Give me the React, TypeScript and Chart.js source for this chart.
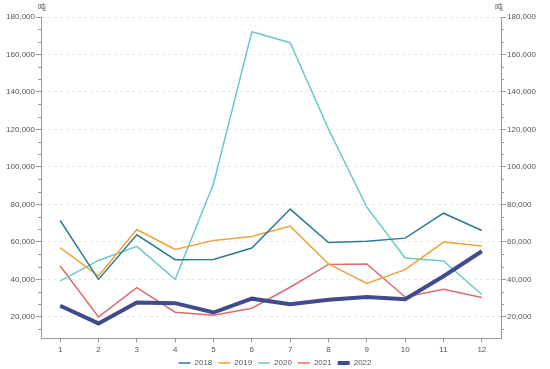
import React, { useEffect, useRef } from 'react';
import { Chart, registerables } from 'chart.js';

Chart.register(...registerables);

const months = ['1', '2', '3', '4', '5', '6', '7', '8', '9', '10', '11', '12'];
const years = ['2018', '2019', '2020', '2021', '2022'];
const s2018 = [71400, 40000, 63800, 50500, 50600, 56700, 77500, 59700, 60400, 62000, 75300, 66100];
const s2019 = [56900, 41800, 66600, 56000, 60800, 62900, 68400, 48200, 37800, 45200, 59900, 57800];
const s2020 = [39200, 50100, 57600, 40000, 91000, 172100, 166300, 120200, 78500, 51400, 49800, 31900];
const s2021 = [47100, 20000, 35600, 22500, 20900, 24600, 35800, 48000, 48200, 30600, 34700, 30300];
const s2022 = [25900, 16500, 27700, 27300, 22300, 29700, 26700, 29100, 30600, 29400, 41700, 55000];
const unitLabel = '吨';
const yMin = 8500;
const yMax = 180000;
const yStep = 20000;

const colors = ['#2b7a98', '#f0a236', '#6cc9c6', '#df6b6f', '#3f4b8c'];
const widths = [1.5, 1.5, 1.5, 1.5, 4];
const axisColor = '#999';
const textColor = '#555';
const FONT = "'Liberation Sans', Arial, sans-serif";

const fmt = (v: number) => v.toLocaleString('en-US');

const decor = {
  id: 'decor',
  afterDraw(chart: any) {
    const ctx = chart.ctx;
    const yl = chart.scales.y;
    const yr = chart.scales.y1;
    ctx.save();
    ctx.strokeStyle = axisColor;
    ctx.lineWidth = 1;
    const minor = yStep / 3;
    for (let k = -3; k <= 27; k++) {
      if (k % 3 === 0) continue;
      const v = yStep + k * minor;
      if (v < yMin || v > yMax) continue;
      const py = Math.round(yl.getPixelForValue(v)) + 0.5;
      ctx.beginPath();
      ctx.moveTo(yl.right - 3, py);
      ctx.lineTo(yl.right, py);
      ctx.moveTo(yr.left, py);
      ctx.lineTo(yr.left + 3, py);
      ctx.stroke();
    }
    ctx.fillStyle = textColor;
    ctx.font = "8px 'Noto Sans CJK SC', sans-serif";
    ctx.textAlign = 'center';
    ctx.textBaseline = 'middle';
    ctx.fillText(unitLabel, yl.right + 1, 7);
    ctx.fillText(unitLabel, yr.left - 2, 7);
    ctx.restore();
  },
};

const yTicksFilter = (scale: any) => {
  const t: any[] = [];
  for (let v = yStep; v <= yMax; v += yStep) t.push({ value: v });
  scale.ticks = t;
};

export default function App() {
  const ref = useRef<HTMLCanvasElement>(null);
  useEffect(() => {
    document.body.style.margin = '0';
    const series = [s2018, s2019, s2020, s2021, s2022];
    const chart = new Chart(ref.current as HTMLCanvasElement, {
      type: 'line',
      data: {
        labels: months,
        datasets: years.map((y, i) => ({
          label: y,
          data: series[i],
          borderColor: colors[i],
          backgroundColor: colors[i],
          borderWidth: widths[i],
          pointRadius: 0,
          pointHoverRadius: 0,
          tension: 0,
          pointStyle: 'line',
          order: i === 4 ? 0 : 1,
        })),
      },
      options: {
        animation: false,
        responsive: true,
        maintainAspectRatio: false,
        layout: { padding: { top: 17, left: 0, right: 0, bottom: -8 } },
        plugins: {
          legend: {
            position: 'bottom',
            labels: {
              usePointStyle: true,
              pointStyleWidth: 12,
              boxHeight: 8,
              padding: 6,
              color: textColor,
              font: { size: 8, family: FONT },
              sort: (a: any, b: any) => a.datasetIndex - b.datasetIndex,
            },
          },
          tooltip: { enabled: false },
        },
        scales: {
          x: {
            offset: true,
            afterFit: (s: any) => { s.height = s.height - 5; },
            grid: { drawOnChartArea: false, offset: false, tickLength: 4, color: axisColor },
            border: { color: axisColor },
            ticks: { color: textColor, font: { size: 8, family: FONT }, padding: 3 },
          },
          y: {
            position: 'left',
            min: yMin,
            max: yMax,
            afterBuildTicks: yTicksFilter,
            afterFit: (s: any) => { s.width = 41; },
            grid: { color: '#e8e8e8', tickColor: axisColor, tickLength: 5 },
            border: { color: axisColor, dash: [3, 3] },
            ticks: { color: textColor, font: { size: 8, family: FONT }, padding: 1, callback: (v: any) => fmt(Number(v)) },
          },
          y1: {
            position: 'right',
            min: yMin,
            max: yMax,
            afterBuildTicks: yTicksFilter,
            afterFit: (s: any) => { s.width = 49; },
            grid: { drawOnChartArea: false, tickColor: axisColor, tickLength: 5 },
            border: { color: axisColor },
            ticks: { color: textColor, font: { size: 8, family: FONT }, padding: 1, callback: (v: any) => fmt(Number(v)) },
          },
        },
      },
      plugins: [decor],
    } as any);
    return () => chart.destroy();
  }, []);
  return (
    <div style={{ width: 550, height: 369, position: 'relative', background: '#fff' }}>
      <canvas ref={ref} />
    </div>
  );
}
